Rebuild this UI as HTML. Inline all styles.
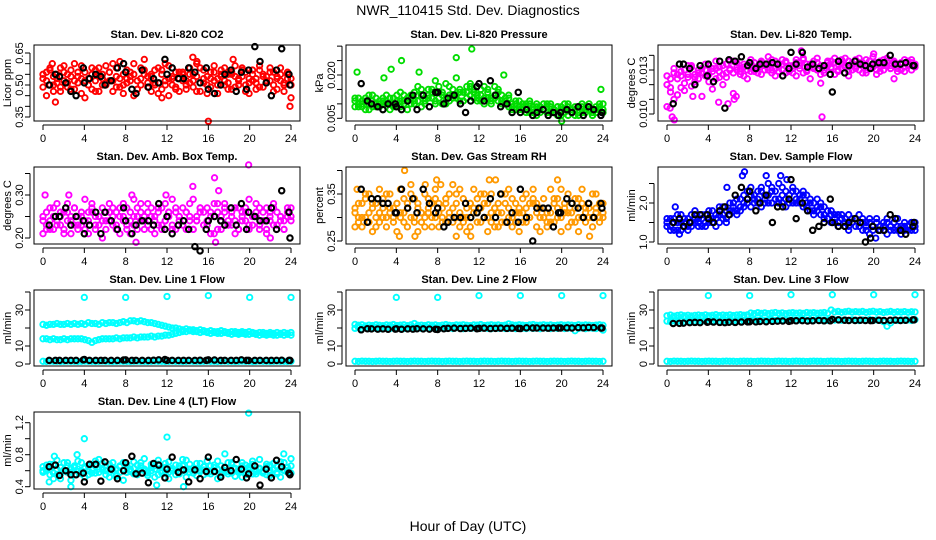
<!DOCTYPE html>
<html><head><meta charset="utf-8"><title>NWR_110415 Std. Dev. Diagnostics</title>
<style>html,body{margin:0;padding:0;background:#fff}svg{display:block;font-family:"Liberation Sans",Arial,sans-serif}</style>
</head><body>
<svg id="chart" width="936" height="540" viewBox="0 0 936 540">
<text x="468" y="15" text-anchor="middle" font-size="14">NWR_110415 Std. Dev. Diagnostics</text>
<text x="468" y="531" text-anchor="middle" font-size="14">Hour of Day (UTC)</text>
</svg>
<script>
// ---- data ----
const xTicks = [0,4,8,12,16,20,24];
const blackHours = [0.6,1.2,1.6,2.2,2.7,3.2,3.9,4,4.5,5.1,5.6,6,6.6,7.2,7.8,8,8.6,9,9.6,10.2,10.7,11.2,11.8,12,12.5,13.1,13.6,14.1,14.7,15.2,15.8,16,16.6,17.2,17.6,18.2,18.7,19.2,19.7,19.9,20.5,21,21.6,22.1,22.6,23.1,23.8,23.9];
const spikeHours = [4,8,12,16,20,24];

const co2A = [.53,.56,.50,.47,.55,.58,.52,.49,.54,.60,.51,.46,.56,.53,.48,.57,.55,.50,.59,.52,.47,.54,.61,.50,.53,.56,.45,.52,.58,.55,.49,.54,.57,.51,.48,.60,.53,.50,.56,.47,.55,.52,.58,.49,.54,.51,.57,.46,.53,.59,.50,.55,.52,.48,.56,.54,.50,.58,.47,.53,.55,.51,.57,.49,.54,.52,.56,.48,.55,.51,.53,.50];
const co2B = [.49,.45,.57,.54,.51,.47,.59,.55,.48,.52,.56,.53,.44,.50,.58,.52,.47,.55,.51,.56,.60,.49,.53,.46,.57,.52,.55,.48,.50,.62,.54,.47,.51,.58,.55,.50,.45,.53,.49,.56,.52,.48,.51,.55,.60,.47,.53,.50,.56,.52,.46,.54,.58,.51,.55,.49,.53,.57,.50,.46,.52,.48,.59,.54,.51,.56,.47,.53,.58,.50,.55,.44];
const co2C = [.55,.52,.58,.50,.53,.49,.56,.51,.57,.48,.54,.59,.52,.50,.55,.47,.58,.53,.50,.56,.52,.58,.49,.55,.51,.54,.60,.48,.53,.57,.51,.55,.50,.46,.57,.52,.59,.54,.48,.53,.56,.50,.55,.52,.47,.58,.51,.54,.49,.56,.53,.57,.50,.55,.48,.59,.52,.54,.56,.51,.57,.53,.49,.55,.52,.58,.50,.54,.52,.47,.56,.53];
const co2OutHours = [14.5,14.9,16,23.9,1.2,18.4,0.9,11.5];
const co2OutVals = [.63,.61,.33,.40,.42,.62,.60,.44];
const co2Black = [.50,.55,.54,.51,.47,.45,.58,.51,.53,.55,.54,.50,.52,.58,.60,.56,.48,.46,.57,.49,.53,.51,.62,.55,.58,.53,.53,.58,.56,.51,.58,.48,.46,.50,.55,.57,.47,.56,.48,.57,.68,.61,.51,.45,.57,.67,.55,.50];

const presA = [.011,.010,.009,.012,.008,.011,.010,.009,.012,.011,.008,.010,.013,.009,.011,.012,.010,.014,.011,.009,.012,.013,.015,.011,.012,.014,.010,.016,.013,.012,.015,.011,.014,.017,.012,.013,.015,.010,.014,.012,.016,.011,.013,.010,.012,.009,.011,.008,.010,.009,.011,.007,.009,.008,.010,.007,.009,.008,.006,.009,.007,.010,.008,.006,.009,.007,.008,.010,.007,.009,.008,.010];
const presB = [.009,.012,.011,.008,.010,.013,.009,.011,.008,.010,.012,.009,.011,.014,.010,.008,.013,.011,.016,.013,.010,.015,.012,.018,.014,.010,.017,.013,.012,.019,.014,.011,.016,.013,.015,.012,.011,.016,.012,.010,.013,.015,.011,.012,.009,.010,.008,.011,.009,.007,.010,.008,.006,.009,.008,.010,.007,.008,.009,.006,.008,.009,.007,.008,.006,.009,.007,.008,.006,.007,.009,.008];
const presC = [.012,.009,.010,.011,.013,.009,.012,.010,.011,.013,.010,.012,.009,.011,.013,.011,.012,.010,.013,.015,.011,.012,.014,.010,.016,.013,.012,.011,.015,.013,.011,.014,.012,.016,.014,.011,.013,.012,.015,.011,.012,.014,.010,.011,.013,.008,.010,.009,.008,.010,.007,.009,.010,.007,.008,.009,.010,.007,.009,.008,.010,.006,.008,.009,.007,.010,.008,.009,.006,.008,.010,.007];
const presOutHours = [0.2,3.5,4.5,9.8,11.3,14.4,23.8,20,2.8,6.2];
const presOutVals = [.021,.022,.025,.026,.029,.020,.015,.004,.019,.021];
const presBlack = [.017,.011,.010,.009,.008,.010,.010,.009,.008,.011,.013,.008,.013,.009,.014,.014,.010,.012,.013,.010,.007,.011,.016,.017,.011,.018,.013,.009,.010,.007,.014,.007,.008,.006,.007,.008,.006,.007,.006,.007,.008,.007,.009,.006,.009,.008,.006,.007];

const tempA = [.0120,.0124,.0110,.0127,.0118,.0130,.0125,.0132,.0122,.0128,.0131,.0126,.0133,.0129,.0124,.0132,.0127,.0134,.0130,.0128,.0135,.0131,.0126,.0133,.0137,.0129,.0132,.0135,.0130,.0134,.0128,.0136,.0132,.0130,.0135,.0129,.0133,.0137,.0131,.0128,.0134,.0132,.0136,.0130,.0127,.0133,.0135,.0131,.0138,.0129,.0134,.0132,.0136,.0130,.0133,.0135,.0128,.0137,.0132,.0134,.0130,.0136,.0133,.0138,.0131,.0135,.0129,.0134,.0132,.0136,.0130,.0133];
const tempB = [.0105,.0115,.0128,.0113,.0126,.0121,.0133,.0119,.0127,.0124,.0112,.0130,.0122,.0117,.0131,.0125,.0120,.0128,.0136,.0114,.0130,.0127,.0132,.0124,.0129,.0135,.0131,.0127,.0133,.0139,.0130,.0126,.0134,.0137,.0128,.0133,.0131,.0126,.0135,.0138,.0130,.0124,.0132,.0135,.0121,.0130,.0133,.0136,.0127,.0134,.0131,.0138,.0126,.0133,.0137,.0130,.0135,.0128,.0132,.0139,.0127,.0134,.0130,.0136,.0133,.0124,.0131,.0135,.0129,.0134,.0137,.0132];
const tempC = [.0126,.0118,.0131,.0124,.0129,.0116,.0127,.0133,.0125,.0130,.0128,.0134,.0127,.0131,.0136,.0129,.0133,.0125,.0131,.0136,.0132,.0129,.0134,.0130,.0135,.0132,.0128,.0136,.0133,.0130,.0137,.0131,.0129,.0134,.0136,.0131,.0128,.0135,.0133,.0137,.0129,.0134,.0131,.0138,.0133,.0128,.0136,.0132,.0135,.0130,.0137,.0133,.0129,.0135,.0131,.0138,.0134,.0130,.0136,.0132,.0135,.0129,.0137,.0133,.0131,.0136,.0134,.0130,.0137,.0133,.0135,.0134];
const tempOutHours = [0.5,0.7,2.5,5,5.9,6.5,6.7,15,13,20,0.3,1.0];
const tempOutVals = [.0098,.0096,.0112,.0108,.0107,.0110,.0112,.0098,.0143,.0141,.0104,.0113];
const tempBlack = [.0107,.0134,.0134,.0131,.0120,.0133,.0126,.0134,.0122,.0136,.0104,.0137,.0136,.0139,.0133,.0135,.0131,.0134,.0134,.0135,.0134,.0126,.0131,.0142,.0134,.0142,.0132,.0134,.0131,.0133,.0127,.0115,.0136,.0128,.0133,.0136,.0134,.0133,.0131,.0134,.0135,.0135,.0140,.0134,.0134,.0135,.0133,.0133];

const boxA = [.24,.26,.22,.25,.28,.23,.26,.24,.21,.27,.25,.23,.29,.24,.26,.22,.25,.27,.24,.28,.23,.26,.21,.25,.27,.24,.29,.22,.26,.25,.23,.27,.24,.26,.22,.28,.25,.23,.26,.24,.27,.22,.25,.29,.24,.26,.23,.27,.25,.21,.26,.24,.28,.23,.25,.27,.22,.26,.24,.29,.23,.25,.27,.24,.22,.26,.28,.23,.25,.24,.27,.25];
const boxB = [.21,.23,.27,.22,.24,.26,.21,.28,.25,.23,.22,.26,.24,.21,.27,.25,.23,.20,.26,.24,.27,.22,.25,.28,.23,.21,.25,.27,.24,.22,.28,.25,.21,.23,.27,.24,.26,.29,.22,.25,.23,.26,.28,.22,.24,.27,.26,.23,.21,.25,.28,.22,.26,.24,.23,.21,.27,.24,.26,.22,.25,.28,.23,.26,.21,.24,.27,.23,.25,.22,.26,.24];
const boxC = [.25,.22,.24,.27,.23,.25,.22,.26,.24,.27,.23,.25,.22,.26,.28,.23,.25,.24,.22,.26,.25,.23,.27,.24,.22,.26,.23,.25,.28,.24,.26,.22,.25,.27,.23,.24,.26,.22,.27,.25,.23,.26,.24,.22,.25,.27,.23,.24,.26,.28,.22,.25,.27,.23,.26,.24,.22,.25,.27,.23,.25,.26,.22,.24,.27,.25,.23,.26,.24,.22,.25,.27];
const boxOutHours = [0.2,2.5,8.6,14.5,16.6,17,19.9,22,9,16.7,11.9];
const boxOutVals = [.30,.30,.30,.32,.34,.31,.37,.20,.19,.19,.30];
const boxBlack = [.23,.25,.25,.27,.23,.25,.24,.21,.23,.26,.21,.26,.24,.22,.27,.24,.21,.23,.24,.24,.23,.28,.22,.25,.21,.23,.24,.22,.18,.17,.22,.24,.25,.24,.23,.27,.23,.28,.22,.26,.25,.24,.24,.27,.22,.31,.26,.20];

const rhA = [.31,.29,.33,.30,.35,.32,.28,.31,.34,.30,.32,.29,.33,.36,.31,.28,.30,.34,.32,.29,.35,.31,.33,.30,.28,.32,.34,.31,.29,.33,.36,.30,.32,.28,.31,.34,.29,.33,.30,.35,.32,.28,.31,.33,.30,.34,.29,.32,.31,.35,.30,.33,.28,.32,.34,.31,.29,.33,.30,.36,.32,.28,.31,.34,.30,.33,.29,.32,.35,.31,.30,.33];
const rhB = [.28,.33,.30,.35,.29,.27,.33,.36,.30,.28,.35,.32,.27,.30,.34,.33,.37,.29,.27,.31,.30,.34,.28,.36,.33,.30,.29,.35,.37,.30,.28,.34,.27,.33,.36,.29,.32,.35,.27,.31,.28,.33,.35,.29,.36,.28,.31,.27,.34,.29,.33,.36,.31,.27,.30,.28,.36,.29,.34,.27,.31,.35,.33,.29,.27,.36,.32,.30,.28,.35,.33,.30];
const rhC = [.32,.30,.28,.34,.31,.33,.30,.29,.32,.35,.31,.30,.33,.31,.29,.32,.35,.30,.33,.31,.28,.32,.30,.34,.31,.29,.33,.30,.32,.35,.31,.29,.30,.33,.32,.31,.35,.30,.33,.29,.32,.31,.29,.35,.32,.30,.33,.31,.29,.32,.30,.34,.33,.30,.32,.29,.31,.34,.32,.30,.33,.31,.29,.32,.34,.30,.31,.33,.30,.32,.29,.31];
const rhOutHours = [0.2,4.3,4.8,5.8,7.9,9.8,11.2,13,13.6,22.7,19.6,6.8,8.3];
const rhOutVals = [.36,.26,.40,.26,.38,.26,.26,.38,.38,.26,.38,.37,.37];
const rhBlack = [.36,.29,.34,.34,.33,.33,.31,.31,.36,.32,.34,.31,.36,.33,.31,.32,.28,.29,.30,.30,.33,.30,.31,.32,.30,.34,.30,.35,.29,.31,.29,.36,.30,.25,.32,.32,.32,.28,.31,.31,.34,.33,.32,.30,.33,.30,.33,.32];

const flowA = [1.4,1.6,1.3,1.5,1.7,1.4,1.6,1.5,1.8,1.4,1.6,1.7,1.5,1.8,1.6,1.7,1.9,1.6,1.8,2.0,1.7,1.9,2.2,2.0,2.4,2.1,2.3,1.9,2.2,2.5,2.0,2.3,2.1,2.4,1.9,2.2,2.0,2.3,2.1,1.9,2.2,2.0,1.8,2.1,1.7,1.9,1.6,1.8,1.5,1.7,1.6,1.4,1.7,1.5,1.6,1.4,1.5,1.3,1.6,1.4,1.5,1.3,1.4,1.6,1.3,1.5,1.4,1.3,1.5,1.4,1.3,1.5];
const flowB = [1.6,1.3,1.5,1.7,1.3,1.5,1.4,1.7,1.5,1.6,1.4,1.5,1.8,1.6,1.4,1.9,1.7,1.5,2.0,1.8,2.1,1.8,2.0,2.3,1.9,2.2,2.0,2.4,2.1,2.0,2.3,2.1,2.5,2.0,2.3,2.1,2.4,2.0,2.2,2.3,1.9,2.1,1.7,1.9,2.0,1.6,1.8,1.5,1.7,1.4,1.6,1.5,1.3,1.6,1.4,1.7,1.3,1.5,1.2,1.4,1.6,1.3,1.5,1.2,1.4,1.5,1.3,1.2,1.4,1.3,1.5,1.4];
const flowC = [1.5,1.4,1.6,1.3,1.5,1.6,1.3,1.4,1.6,1.5,1.7,1.4,1.6,1.5,1.7,1.5,1.6,1.8,1.7,1.9,1.8,2.1,1.9,2.1,2.2,2.0,2.1,2.3,2.0,2.2,2.4,2.1,2.0,2.2,2.1,2.0,2.3,2.1,2.0,2.2,2.0,1.8,2.0,1.8,1.9,1.7,1.6,1.7,1.6,1.5,1.7,1.6,1.4,1.5,1.6,1.4,1.6,1.4,1.5,1.3,1.5,1.4,1.3,1.5,1.4,1.3,1.6,1.4,1.3,1.4,1.5,1.3];
const flowOutHours = [7.5,11,9.6,5.8,0.8,1.2,20.2,7.3,11.6];
const flowOutVals = [2.8,2.7,2.7,2.4,1.9,1.2,1.1,2.7,2.6];
const flowBlack = [1.5,1.6,1.4,1.5,1.7,1.7,1.7,1.6,1.5,1.8,1.9,1.7,2.2,2.4,2.1,2.3,1.8,2.0,2.2,1.5,1.9,1.9,2.1,2.6,1.6,2.0,1.8,1.3,1.4,1.5,2.1,1.5,1.4,1.4,1.5,1.6,1.5,1.0,1.1,1.4,1.3,1.3,1.7,1.6,1.3,1.2,1.4,1.5];

const line1A = [22,21.5,22,22,22.5,22,22,22.5,22,22.5,22,22.5,22,23,22.5,22.5,22,23,22.5,23,23,22.5,23,23.5,23,24,24,23.5,24,23.5,23,23,22.5,22,21.5,21,20.5,20,20,19.5,19,19.5,19,19,18.5,19,18.5,18,18.5,18,18,18.5,18,17.5,18,18,17.5,18,17.5,18,17.5,17,17.5,17.5,17,17.5,17,17.5,17,17.5,17,17.5];
const line1B = [14,14,13.5,14,13.5,13.5,14,13.5,14,14,14,14,13.5,13,12,13,13.5,14,14,14,14,14.5,14,14.5,14.5,14.5,15,14.5,15,15,15,15.5,15,15.5,15.5,16,16,16.5,17,17.5,18,18,18.5,18,18,17.5,18,17.5,17,17.5,17,17,17.5,17,16.5,17,16.5,17,16.5,16.5,17,16.5,16,16.5,16,16.5,16,16,16.5,16,16.5,16];
const line1Low = [1.5,1.4,1.6,1.5,1.5,1.4,1.5,1.6,1.5,1.5,1.4,1.5,1.6,1.5,1.5,1.4,1.5,1.6,1.5,1.5,1.4,1.5,1.6,1.5,1.5,1.4,1.5,1.6,1.5,1.5,1.4,1.5,1.6,1.5,1.5,1.4,1.5,1.6,1.5,1.5,1.4,1.5,1.6,1.5,1.5,1.4,1.5,1.6,1.5,1.5,1.4,1.5,1.6,1.5,1.5,1.4,1.5,1.6,1.5,1.5,1.4,1.5,1.6,1.5,1.5,1.4,1.5,1.6,1.5,1.5,1.4,1.5];
const line1Spikes = [37,37,37.5,38,37,37];
const line1Black = [2,2,2,2,2,2,2.3,2.5,2,2,2,2,2,2,2.2,2.3,2,2,2,2,2.1,2.3,2.5,2,2,2,2,2,2,2.1,2,2.3,2.2,2,2,2,2,2.3,2,2,2,2,2,2,2,2.1,2,2];

const line2A = [22,21.5,21.8,21.2,21.6,21.4,21.8,21.5,21.3,21.7,21.5,21.9,21.4,21.6,21.8,21.3,21.7,22.5,21.5,21.6,21.4,21.8,21.5,21.7,21.3,21.6,21.9,21.5,21.4,21.7,21.6,21.8,21.5,21.3,21.7,21.6,21.9,21.4,21.6,21.8,21.5,21.7,21.4,21.6,22.3,21.7,21.5,21.8,21.6,21.4,21.7,21.9,21.5,21.6,21.8,21.5,21.7,21.4,21.6,21.8,21.5,21.7,21.6,21.4,21.8,21.5,21.7,21.6,21.4,21.6,21.8,21.5];
const line2B = [19.8,20.2,19.6,20,19.7,20.1,19.8,19.5,20,19.9,19.6,20.1,19.8,20.2,19.7,19.9,20,19.6,20.1,19.8,20.2,19.7,20,19.9,19.6,20.1,19.8,20,19.7,20.2,19.9,19.6,20,19.8,20.1,19.7,19.9,20.2,19.8,19.6,20,19.9,20.1,19.7,19.8,20.2,19.6,20,19.9,19.7,20.1,19.8,20,19.6,20.2,19.9,19.7,20,19.8,20.1,19.7,19.9,20,18.5,19.8,20.1,19.6,20,19.9,19.7,20.2,18.8];
const line2Low = [1.5,1.4,1.6,1.5,1.5,1.4,1.5,1.6,1.5,1.5,1.4,1.5,1.6,1.5,1.5,1.4,1.5,1.6,1.5,1.5,1.4,1.5,1.6,1.5,1.5,1.4,1.5,1.6,1.5,1.5,1.4,1.5,1.6,1.5,1.5,1.4,1.5,1.6,1.5,1.5,1.4,1.5,1.6,1.5,1.5,1.4,1.5,1.6,1.5,1.5,1.4,1.5,1.6,1.5,1.5,1.4,1.5,1.6,1.5,1.5,1.4,1.5,1.6,1.5,1.5,1.4,1.5,1.6,1.5,1.5,1.4,1.5];
const line2Spikes = [37,37,38,38,38,38];
const line2Black = [19,19.6,19.5,19.4,19.5,19.3,19.4,19.5,19.3,19.5,19.4,19.6,19.5,19.4,19.3,19.2,19.6,19.8,19.9,19.7,19.8,19.9,19.6,19.8,19.9,19.7,19.8,19.9,19.8,19.9,19.8,19.7,20.1,20,20,20,19.9,20,20,20,20.1,20,20.2,20.1,20.3,20.2,20,20];

const line3A = [26.8,27.2,26.6,27,27.3,26.8,27.1,26.7,27,27.2,26.9,27.3,26.8,27.1,27.4,26.9,27.2,27,27.3,26.9,27.2,27.4,27.1,27.3,28.3,28,28.5,28.1,28.4,28,28.3,28.6,28.1,28.4,28,28.3,28.5,28.2,28.4,28.1,28.6,28.3,28.5,28.2,28.4,28.6,28.2,30,28.9,29.2,28.7,29,29.3,28.8,29.1,28.9,29.2,28.7,29,29.3,28.8,29.1,28.6,28.9,29.2,28.7,29,28.8,29.1,28.7,29,28.9];
const line3B = [23.8,23.5,24,23.6,23.9,23.5,23.8,24.1,23.6,23.9,23.7,24,23.5,23.8,24.1,23.6,23.9,23.7,24,23.5,23.8,23.6,24.1,23.7,24.3,24.6,24.2,24.5,24.1,24.4,24.7,24.2,24.5,24.3,24.6,24.2,24.5,24.1,24.4,24.7,24.3,24.5,24.2,24.6,24.3,24.5,24.2,24.6,24.4,24.7,24.3,24.5,24.2,24.6,24.4,24.1,24.5,24.3,24.7,24.2,24.5,24.3,23.5,21,22.8,24.4,24.2,24.6,24.3,24.5,24.2,24.6];
const line3Low = [1.5,1.4,1.6,1.5,1.5,1.4,1.5,1.6,1.5,1.5,1.4,1.5,1.6,1.5,1.5,1.4,1.5,1.6,1.5,1.5,1.4,1.5,1.6,1.5,1.5,1.4,1.5,1.6,1.5,1.5,1.4,1.5,1.6,1.5,1.5,1.4,1.5,1.6,1.5,1.5,1.4,1.5,1.6,1.5,1.5,1.4,1.5,1.6,1.5,1.5,1.4,1.5,1.6,1.5,1.5,1.4,1.5,1.6,1.5,1.5,1.4,1.5,1.6,1.5,1.5,1.4,1.5,1.6,1.5,1.5,1.4,1.5];
const line3Spikes = [38,38,38.5,38.5,38.5,38.5];
const line3Black = [22.5,22.6,22.7,23,23.1,23,23.2,23.5,23.3,23.1,23,23.2,23.1,23.3,23.4,23.5,23.4,23.6,23.5,23.7,23.8,23.9,23.7,24,24,24.1,23.9,24,24.2,24,24,24.8,24.5,24.3,24.2,24.2,24.3,24.2,24.1,24.2,24.3,24.2,24.3,24.4,24.2,24.3,24.5,24.5];

const line4A = [.65,.60,.55,.68,.62,.50,.70,.58,.63,.55,.72,.60,.52,.66,.61,.57,.74,.63,.55,.68,.60,.53,.65,.70,.58,.62,.56,.67,.61,.75,.59,.64,.52,.68,.60,.57,.71,.62,.55,.66,.60,.73,.58,.63,.54,.69,.61,.57,.66,.60,.72,.55,.64,.59,.68,.53,.62,.70,.58,.65,.56,.61,.74,.60,.55,.67,.62,.58,.71,.60,.64,.57];
const line4B = [.58,.67,.62,.50,.73,.56,.61,.66,.48,.64,.59,.70,.63,.55,.68,.72,.58,.61,.66,.52,.70,.62,.58,.48,.64,.60,.71,.55,.66,.60,.54,.68,.62,.73,.57,.64,.50,.60,.67,.58,.74,.52,.62,.57,.69,.61,.55,.72,.59,.64,.50,.66,.60,.56,.70,.63,.58,.52,.67,.61,.72,.56,.63,.59,.68,.54,.61,.65,.52,.70,.60,.75];
const line4C = [.60,.62,.68,.57,.55,.64,.60,.70,.58,.66,.62,.56,.65,.60,.57,.66,.62,.69,.60,.58,.64,.55,.66,.61,.68,.59,.63,.58,.70,.62,.57,.60,.66,.55,.64,.69,.58,.63,.60,.56,.66,.61,.68,.57,.62,.59,.65,.60,.56,.67,.62,.58,.64,.70,.57,.62,.60,.66,.55,.63,.68,.59,.62,.57,.65,.60,.69,.56,.63,.61,.58,.66];
const line4OutHours = [4,12,19.9,2.7,13.6,17.6,23.3,0.6,11,3.3,1.1];
const line4OutVals = [1.0,1.02,1.32,.40,.40,.81,.81,.46,.42,.80,.78];
const line4Black = [.65,.67,.54,.60,.55,.55,.57,.46,.68,.68,.47,.71,.62,.50,.60,.70,.78,.56,.57,.45,.69,.67,.51,.62,.77,.58,.61,.46,.61,.50,.59,.77,.59,.52,.64,.60,.74,.62,.51,.56,.66,.42,.62,.51,.73,.65,.57,.55];

// ---- layout ----
const NS = "http://www.w3.org/2000/svg";
const svg = document.getElementById('chart');
const colL = [34, 346, 658];
const rowT = [45, 167, 290, 412];
const rowB = [121, 244, 366, 489];

const panels = [
 {name:'co2', title:'Stan. Dev. Li-820 CO2', ylab:'Licor ppm', c:0, r:0, col:'#ff0000', v1:.35,y1:117,v2:.65,y2:53, ticks:[.35,.40,.45,.50,.55,.60,.65], labels:[[.35,'0.35'],[.50,'0.50'],[.65,'0.65']], series:[co2A,co2B,co2C], out:[co2OutHours,co2OutVals], black:co2Black},
 {name:'pressure', title:'Stan. Dev. Li-820 Pressure', ylab:'kPa', c:1, r:0, col:'#00dd00', v1:.005,y1:118.3,v2:.020,y2:75, ticks:[.005,.010,.015,.020,.025,.030], labels:[[.005,'0.005'],[.020,'0.020']], series:[presA,presB,presC], out:[presOutHours,presOutVals], black:presBlack},
 {name:'li820-temp', title:'Stan. Dev. Li-820 Temp.', ylab:'degrees C', c:2, r:0, col:'#ff00ff', v1:.010,y1:114,v2:.013,y2:70, ticks:[.010,.011,.012,.013,.014], labels:[[.010,'0.010'],[.013,'0.013']], series:[tempA,tempB,tempC], out:[tempOutHours,tempOutVals], black:tempBlack},
 {name:'amb-box-temp', title:'Stan. Dev. Amb. Box Temp.', ylab:'degrees C', c:0, r:1, col:'#ff00ff', v1:.20,y1:238,v2:.30,y2:195, ticks:[.20,.25,.30,.35], labels:[[.20,'0.20'],[.30,'0.30']], series:[boxA,boxB,boxC], out:[boxOutHours,boxOutVals], black:boxBlack},
 {name:'gas-stream-rh', title:'Stan. Dev. Gas Stream RH', ylab:'percent', c:1, r:1, col:'#ff9900', v1:.25,y1:241,v2:.35,y2:194, ticks:[.25,.30,.35,.40], labels:[[.25,'0.25'],[.35,'0.35']], series:[rhA,rhB,rhC], out:[rhOutHours,rhOutVals], black:rhBlack},
 {name:'sample-flow', title:'Stan. Dev. Sample Flow', ylab:'ml/min', c:2, r:1, col:'#0000ff', v1:1.0,y1:242,v2:2.0,y2:203, ticks:[1.0,1.5,2.0,2.5], labels:[[1.0,'1.0'],[2.0,'2.0']], series:[flowA,flowB,flowC], out:[flowOutHours,flowOutVals], black:flowBlack},
 {name:'line1-flow', title:'Stan. Dev. Line 1 Flow', ylab:'ml/min', c:0, r:2, col:'#00ffff', v1:0,y1:364,v2:40,y2:292, ticks:[0,10,20,30,40], labels:[[0,'0'],[10,'10'],[30,'30']], series:[line1A,line1B,line1Low], out:[spikeHours,line1Spikes], black:line1Black},
 {name:'line2-flow', title:'Stan. Dev. Line 2 Flow', ylab:'ml/min', c:1, r:2, col:'#00ffff', v1:0,y1:364,v2:40,y2:292, ticks:[0,10,20,30,40], labels:[[0,'0'],[10,'10'],[30,'30']], series:[line2A,line2B,line2Low], out:[spikeHours,line2Spikes], black:line2Black},
 {name:'line3-flow', title:'Stan. Dev. Line 3 Flow', ylab:'ml/min', c:2, r:2, col:'#00ffff', v1:0,y1:364,v2:40,y2:292, ticks:[0,10,20,30,40], labels:[[0,'0'],[10,'10'],[30,'30']], series:[line3A,line3B,line3Low], out:[spikeHours,line3Spikes], black:line3Black},
 {name:'line4-flow', title:'Stan. Dev. Line 4 (LT) Flow', ylab:'ml/min', c:0, r:3, col:'#00ffff', v1:.4,y1:486.7,v2:1.2,y2:422.7, ticks:[.4,.6,.8,1.0,1.2], labels:[[.4,'0.4'],[.8,'0.8'],[1.2,'1.2']], series:[line4A,line4B,line4C], out:[line4OutHours,line4OutVals], black:line4Black}
];

function mk(tag, attrs, parent){
  const e = document.createElementNS(NS, tag);
  for (const k in attrs) e.setAttribute(k, attrs[k]);
  (parent||svg).appendChild(e);
  return e;
}

panels.forEach(p => {
  const L = colL[p.c], R = L + 266, T = rowT[p.r], B = rowB[p.r];
  const x0 = L + 9, xw = 248;
  const xs = h => x0 + h * xw / 24;
  const ys = v => p.y1 + (v - p.v1) * (p.y2 - p.y1) / (p.v2 - p.v1);
  const g = mk('g', {});
  
  

  const t = mk('text', {x:(L+R)/2, y:T-7, 'text-anchor':'middle', 'font-size':'11', 'font-weight':'bold'}, g);
  t.textContent = p.title;
  
  

  const yl = mk('text', {x:0, y:0, 'text-anchor':'middle', 'font-size':'11', transform:`translate(${L-23},${(T+B)/2}) rotate(-90)`}, g);
  yl.textContent = p.ylab;
  
  

  const pts = mk('g', {fill:'none'}, g);
  
  
  p.series.forEach(arr => {
    arr.forEach((v, i) => {
      const h = i * 24 / (arr.length - 1);
      const c = mk('circle', {cx:xs(h), cy:ys(v), r:2.7, stroke:p.col, 'stroke-width':1.9}, pts);
      
      
    });
  });
  p.out[0].forEach((h, i) => {
    const c = mk('circle', {cx:xs(h), cy:ys(p.out[1][i]), r:2.7, stroke:p.col, 'stroke-width':1.9}, pts);
    
    
  });
  p.black.forEach((v, i) => {
    const c = mk('circle', {cx:xs(blackHours[i]), cy:ys(v), r:2.7, stroke:'#000', 'stroke-width':2.1}, pts);
    
    
  });

  const bx = mk('rect', {x:L, y:T, width:R-L, height:B-T, fill:'none', stroke:'#000', 'stroke-width':1}, g);
  
  

  const xa = mk('g', {}, g);
  
  
  mk('line', {x1:xs(0), x2:xs(24), y1:B+4, y2:B+4, stroke:'#000'}, xa);
  xTicks.forEach(h => {
    mk('line', {x1:xs(h), x2:xs(h), y1:B+4, y2:B+9, stroke:'#000'}, xa);
    const tl = mk('text', {x:xs(h), y:B+21, 'text-anchor':'middle', 'font-size':'11'}, xa);
    tl.textContent = String(h);
    
    
  });

  const ya = mk('g', {}, g);
  
  
  const tv = p.ticks;
  mk('line', {x1:L-4, x2:L-4, y1:ys(tv[0]), y2:ys(tv[tv.length-1]), stroke:'#000'}, ya);
  tv.forEach(v => mk('line', {x1:L-9, x2:L-4, y1:ys(v), y2:ys(v), stroke:'#000'}, ya));
  p.labels.forEach(([v, s]) => {
    const tl = mk('text', {x:0, y:0, 'text-anchor':'middle', 'font-size':'11', transform:`translate(${L-11},${ys(v)}) rotate(-90)`}, ya);
    tl.textContent = s;
    
    
  });
});
</script>
</body></html>
